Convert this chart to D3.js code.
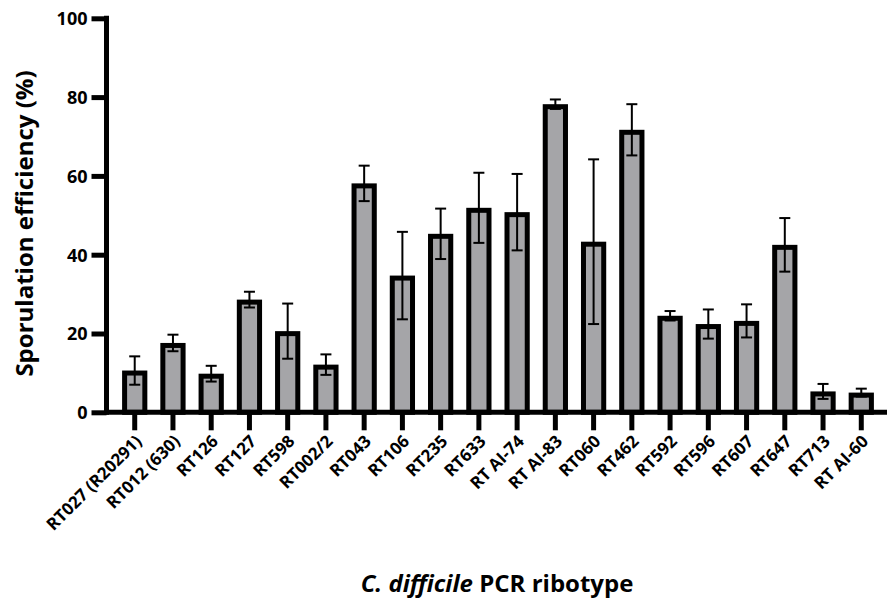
<!DOCTYPE html>
<html>
<head>
<meta charset="utf-8">
<script src="https://cdn.jsdelivr.net/npm/d3@7"></script>
<style>
  body { margin: 0; background: #fff; }
  text { font-family: "Open Sans", sans-serif; font-weight: bold; fill: #000; }
</style>
</head>
<body>
<div id="chart"></div>
<script>
var ribotypes = ["RT027 (R20291)", "RT012 (630)", "RT126", "RT127", "RT598", "RT002/2",
  "RT043", "RT106", "RT235", "RT633", "RT AI-74", "RT AI-83", "RT060", "RT462",
  "RT592", "RT596", "RT607", "RT647", "RT713", "RT AI-60"];
var means = [10.6, 17.6, 9.8, 28.6, 20.6, 12.1, 58.1, 34.7, 45.3, 51.9, 50.8, 78.2,
  43.3, 71.7, 24.5, 22.4, 23.2, 42.5, 5.3, 5.0];
var errors = [3.6, 2.1, 2.0, 2.0, 7.0, 2.6, 4.5, 11.1, 6.4, 8.9, 9.7, 1.2,
  20.9, 6.5, 1.2, 3.7, 4.2, 6.8, 1.9, 1.0];
var yTicks = [0, 20, 40, 60, 80, 100];

var width = 887, height = 612;
var axisX = 106.5, axisY = 412.3, topY = 18.3;

var svg = d3.select('#chart').append('svg')
  .attr('width', width)
  .attr('height', height);

var xScale = d3.scaleBand()
  .domain(ribotypes)
  .range([115.6, 880.4])
  .paddingInner(0.34)
  .paddingOuter(0.17);

var yScale = d3.scaleLinear()
  .domain([0, 100])
  .range([axisY, topY]);

var barStroke = 5;

// bars: border drawn inside so outer edge sits at the value
svg.append('g').selectAll('rect')
  .data(ribotypes)
  .enter()
  .append('rect')
  .attr('x', function(d) { return xScale(d) + barStroke / 2; })
  .attr('y', function(d, i) { return yScale(means[i]) + barStroke / 2; })
  .attr('width', xScale.bandwidth() - barStroke)
  .attr('height', function(d, i) { return axisY - yScale(means[i]) - barStroke / 2; })
  .attr('fill', '#a5a5a8')
  .attr('stroke', '#000')
  .attr('stroke-width', barStroke);

// error bars
var cap = 5.5;
var err = svg.append('g').selectAll('g')
  .data(ribotypes)
  .enter()
  .append('g')
  .attr('stroke', '#000')
  .attr('stroke-width', 2);

err.append('line')
  .attr('x1', function(d) { return xScale(d) + xScale.bandwidth() / 2; })
  .attr('x2', function(d) { return xScale(d) + xScale.bandwidth() / 2; })
  .attr('y1', function(d, i) { return yScale(means[i] + errors[i]); })
  .attr('y2', function(d, i) { return yScale(Math.max(0, means[i] - errors[i])); });

err.append('line')
  .attr('x1', function(d) { return xScale(d) + xScale.bandwidth() / 2 - cap; })
  .attr('x2', function(d) { return xScale(d) + xScale.bandwidth() / 2 + cap; })
  .attr('y1', function(d, i) { return yScale(means[i] + errors[i]); })
  .attr('y2', function(d, i) { return yScale(means[i] + errors[i]); });

err.append('line')
  .attr('x1', function(d) { return xScale(d) + xScale.bandwidth() / 2 - cap; })
  .attr('x2', function(d) { return xScale(d) + xScale.bandwidth() / 2 + cap; })
  .attr('y1', function(d, i) { return yScale(means[i] - errors[i]); })
  .attr('y2', function(d, i) { return yScale(means[i] - errors[i]); });

// y axis
var yAxis = d3.axisLeft(yScale)
  .tickValues(yTicks)
  .tickSize(15)
  .tickPadding(4);

var gy = svg.append('g')
  .attr('transform', `translate(${axisX},0)`)
  .call(yAxis);
gy.select('.domain').remove();
gy.selectAll('.tick line').attr('stroke', '#000').attr('stroke-width', 5);
gy.selectAll('.tick text').style('font-size', '18px').attr('dy', '0.35em');
gy.append('line')
  .attr('x1', 0).attr('x2', 0)
  .attr('y1', topY - 2.5).attr('y2', axisY + 2.5)
  .attr('stroke', '#000').attr('stroke-width', 5);

// x axis
var xAxis = d3.axisBottom(xScale)
  .tickSize(18)
  .tickPadding(0);

var gx = svg.append('g')
  .attr('transform', `translate(0,${axisY})`)
  .call(xAxis);
gx.select('.domain').remove();
gx.selectAll('.tick line').attr('stroke', '#000').attr('stroke-width', 5);
gx.selectAll('.tick text')
  .style('font-size', '17px')
  .attr('text-anchor', 'end')
  .attr('y', 0)
  .attr('dy', 0)
  .attr('transform', 'translate(8,30) rotate(-45)');
gx.append('line')
  .attr('x1', axisX - 2.5).attr('x2', width)
  .attr('y1', 0).attr('y2', 0)
  .attr('stroke', '#000').attr('stroke-width', 5);

// axis titles
svg.append('text')
  .attr('transform', `translate(33,${(62 + 385) / 2}) rotate(-90)`)
  .attr('text-anchor', 'middle')
  .style('font-size', '24px')
  .text('Sporulation efficiency (%)');

var xt = svg.append('text')
  .attr('x', 497)
  .attr('y', 592)
  .attr('text-anchor', 'middle')
  .style('font-size', '24px');
xt.append('tspan').style('font-style', 'italic').text('C. difficile');
xt.append('tspan').text(' PCR ribotype');
</script>
</body>
</html>
